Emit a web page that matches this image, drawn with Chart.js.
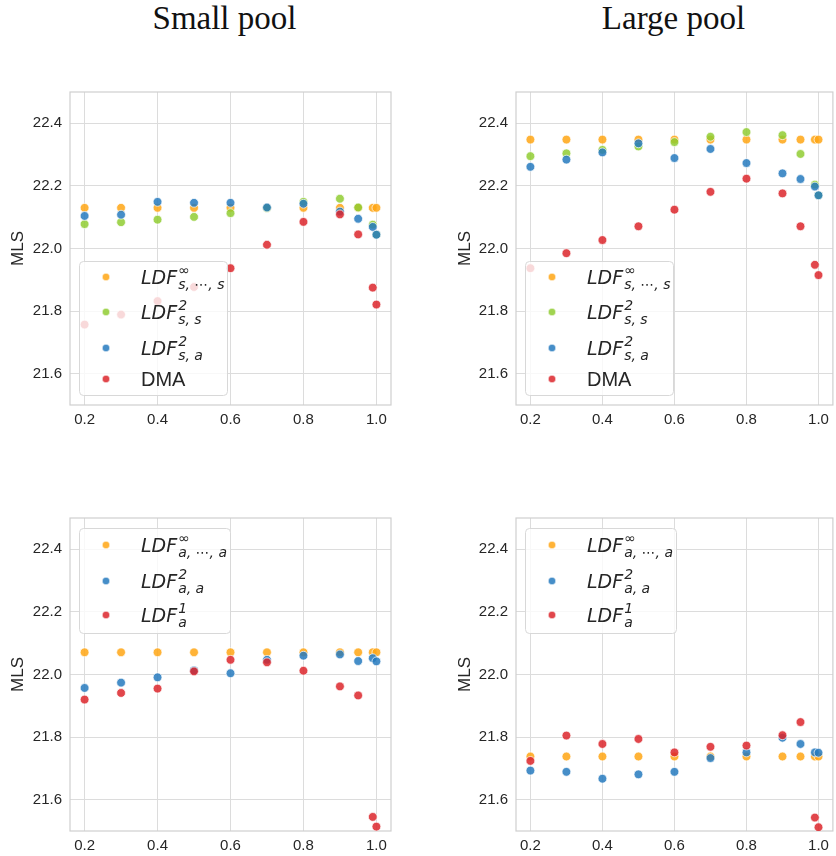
<!DOCTYPE html>
<html>
<head>
<meta charset="utf-8">
<script src="https://cdn.jsdelivr.net/npm/chart.js@4/dist/chart.umd.min.js"></script>
<style>
  body { margin: 0; background: #fff; width: 836px; height: 856px; overflow: hidden; position: relative; }
  .panel { position: absolute; }
  .title { position: absolute; top: 2px; width: 449px; text-align: center;
           font-family: "Liberation Serif", serif; font-size: 33px; line-height: 33px; color: #111; }
</style>
</head>
<body>
<div class="title" style="left:0">Small pool</div>
<div class="title" style="left:449px">Large pool</div>
<canvas id="tl" class="panel" width="418" height="428" style="left:0;top:0"></canvas>
<canvas id="tr" class="panel" width="420" height="428" style="left:418px;top:0"></canvas>
<canvas id="bl" class="panel" width="418" height="428" style="left:0;top:428px"></canvas>
<canvas id="br" class="panel" width="420" height="428" style="left:418px;top:428px"></canvas>
<script>
// shared x positions and ticks
const xVals = [0.2, 0.3, 0.4, 0.5, 0.6, 0.7, 0.8, 0.9, 0.95, 0.99, 1.0];
const xTicks = [0.2, 0.4, 0.6, 0.8, 1.0];
const yTicks = [21.6, 21.8, 22.0, 22.2, 22.4];

// small pool, s-policies
const smallLdfSInf = [22.13, 22.13, 22.13, 22.13, 22.13, 22.13, 22.13, 22.13, 22.13, 22.13, 22.13];
const smallLdfSS   = [22.078, 22.084, 22.092, 22.101, 22.113, 22.129, 22.149, 22.159, 22.131, 22.076, 22.044];
const smallLdfSA   = [22.104, 22.108, 22.149, 22.146, 22.146, 22.131, 22.143, 22.118, 22.095, 22.069, 22.044];
const smallDma     = [21.757, 21.789, 21.832, 21.877, 21.937, 22.012, 22.085, 22.109, 22.045, 21.875, 21.821];

// large pool, s-policies
const largeLdfSInf = [22.348, 22.348, 22.348, 22.348, 22.348, 22.348, 22.348, 22.348, 22.348, 22.348, 22.348];
const largeLdfSS   = [22.295, 22.304, 22.315, 22.326, 22.340, 22.357, 22.372, 22.362, 22.302, 22.204, 22.17];
const largeLdfSA   = [22.261, 22.284, 22.307, 22.336, 22.289, 22.318, 22.273, 22.240, 22.222, 22.198, 22.170];
const largeDma     = [21.937, 21.985, 22.027, 22.071, 22.124, 22.181, 22.223, 22.176, 22.071, 21.948, 21.915];

// small pool, a-policies
const smallLdfAInf = [22.071, 22.071, 22.071, 22.071, 22.071, 22.071, 22.071, 22.071, 22.071, 22.071, 22.071];
const smallLdfAA   = [21.957, 21.974, 21.991, 22.013, 22.004, 22.047, 22.060, 22.064, 22.043, 22.052, 22.042];
const smallLdfA1   = [21.920, 21.941, 21.955, 22.010, 22.047, 22.039, 22.012, 21.962, 21.933, 21.545, 21.514];

// large pool, a-policies
const largeLdfAInf = [21.738, 21.738, 21.738, 21.738, 21.738, 21.738, 21.738, 21.738, 21.738, 21.738, 21.738];
const largeLdfAA   = [21.693, 21.689, 21.667, 21.681, 21.689, 21.733, 21.751, 21.798, 21.778, 21.751, 21.750];
const largeLdfA1   = [21.724, 21.805, 21.778, 21.794, 21.751, 21.769, 21.773, 21.806, 21.848, 21.543, 21.512];

const ORANGE = 'rgba(255,166,20,0.85)';
const GREEN  = 'rgba(145,205,50,0.85)';
const BLUE   = 'rgba(38,122,190,0.85)';
const RED    = 'rgba(220,38,44,0.85)';

// legend labels: base text, superscript, subscript
const sLegend = [
  { color: ORANGE, text: 'LDF', sup: '∞', sub: 's, ⋯, s' },
  { color: GREEN,  text: 'LDF', sup: '2', sub: 's, s' },
  { color: BLUE,   text: 'LDF', sup: '2', sub: 's, a' },
  { color: RED,    text: 'DMA' }
];
const aLegend = [
  { color: ORANGE, text: 'LDF', sup: '∞', sub: 'a, ⋯, a' },
  { color: BLUE,   text: 'LDF', sup: '2', sub: 'a, a' },
  { color: RED,    text: 'LDF', sup: '1', sub: 'a' }
];

const framePlugin = {
  id: 'frame',
  beforeDatasetsDraw(chart) {
    const { ctx, chartArea: a } = chart;
    ctx.save();
    ctx.strokeStyle = '#cfcfcf';
    ctx.lineWidth = 1.2;
    ctx.strokeRect(a.left, a.top, a.right - a.left, a.bottom - a.top);
    ctx.restore();
  }
};

const mathLegend = {
  id: 'mathLegend',
  afterDatasetsDraw(chart, args, opts) {
    const { ctx, chartArea: a } = chart;
    const x0 = a.left + 9;
    const y0 = opts.corner === 'top' ? a.top + 10 : a.bottom - 10 - opts.height;
    ctx.save();
    ctx.beginPath();
    ctx.roundRect(x0 + 0.5, y0 + 0.5, opts.width, opts.height, 4);
    ctx.fillStyle = 'rgba(255,255,255,0.8)';
    ctx.fill();
    ctx.strokeStyle = '#d8d8d8';
    ctx.lineWidth = 1;
    ctx.stroke();
    opts.items.forEach((it, i) => {
      const my = y0 + opts.rows[i];
      ctx.beginPath();
      ctx.arc(x0 + 27, my, 3.8, 0, Math.PI * 2);
      ctx.fillStyle = it.color;
      ctx.fill();
      ctx.strokeStyle = '#fff';
      ctx.lineWidth = 0.6;
      ctx.stroke();
      let tx = x0 + 62;
      const base = my + 7;
      ctx.fillStyle = '#262626';
      ctx.textAlign = 'left';
      ctx.textBaseline = 'alphabetic';
      if (it.sub === undefined) {
        ctx.font = '20px "Liberation Sans"';
        ctx.fillText(it.text, tx, base);
        return;
      }
      ctx.font = 'italic 19px "DejaVu Sans"';
      ctx.fillText(it.text, tx, base);
      tx += ctx.measureText(it.text).width + 1;
      ctx.font = 'italic 14px "DejaVu Sans"';
      ctx.fillText(it.sup, tx, base - 9);
      ctx.fillText(it.sub, tx, base + 5);
    });
    ctx.restore();
  }
};

function makeDataset(label, values, color, order) {
  return {
    label: label,
    data: xVals.map((x, i) => ({ x: x, y: values[i] })),
    backgroundColor: color,
    borderColor: '#ffffff',
    borderWidth: 0.7,
    pointRadius: 4.4,
    order: order
  };
}

function drawPanel(id, datasets, legend, geo) {
  const tickFont = { family: '"Liberation Sans", Arial, sans-serif', size: 15 };
  new Chart(document.getElementById(id), {
    type: 'scatter',
    data: { datasets: datasets },
    plugins: [framePlugin, mathLegend],
    options: {
      responsive: false,
      animation: false,
      devicePixelRatio: 1,
      layout: { padding: { left: 0, right: geo.padRight, top: geo.padTop, bottom: 0 } },
      scales: {
        x: {
          type: 'linear',
          min: 0.16,
          max: 1.04,
          afterBuildTicks: s => { s.ticks = xTicks.map(v => ({ value: v })); },
          afterFit: s => { s.height = geo.xHeight; },
          ticks: { callback: v => v.toFixed(1), font: tickFont, color: '#262626', padding: 6, maxRotation: 0 },
          grid: { color: '#dcdcdc', lineWidth: 1, drawTicks: false },
          border: { display: false }
        },
        y: {
          min: 21.5,
          max: 22.5,
          afterBuildTicks: s => { s.ticks = yTicks.map(v => ({ value: v })); },
          afterFit: s => { s.width = geo.yWidth; },
          ticks: { callback: v => v.toFixed(1), font: tickFont, color: '#262626', padding: 8 },
          grid: { color: '#dcdcdc', lineWidth: 1, drawTicks: false },
          border: { display: false },
          title: {
            display: true,
            text: 'MLS',
            font: { family: '"Liberation Sans", Arial, sans-serif', size: 17 },
            color: '#262626',
            padding: { top: geo.titlePad, bottom: 0 }
          }
        }
      },
      plugins: {
        legend: { display: false },
        tooltip: { enabled: false },
        mathLegend: legend
      }
    }
  });
}

const topLegendS = { items: sLegend, corner: 'bottom', width: 148, height: 134, rows: [16, 51, 87, 118] };
const topLegendA = { items: aLegend, corner: 'top', width: 151, height: 105, rows: [17, 53, 87] };

drawPanel('tl', [
  makeDataset('LDF inf s', smallLdfSInf, ORANGE, 3),
  makeDataset('LDF 2 s,s', smallLdfSS, GREEN, 2),
  makeDataset('LDF 2 s,a', smallLdfSA, BLUE, 1),
  makeDataset('DMA', smallDma, RED, 0)
], topLegendS, { padRight: 27, padTop: 92, xHeight: 23, yWidth: 70, titlePad: 8 });

drawPanel('tr', [
  makeDataset('LDF inf s', largeLdfSInf, ORANGE, 3),
  makeDataset('LDF 2 s,s', largeLdfSS, GREEN, 2),
  makeDataset('LDF 2 s,a', largeLdfSA, BLUE, 1),
  makeDataset('DMA', largeDma, RED, 0)
], topLegendS, { padRight: 1, padTop: 92, xHeight: 23, yWidth: 98, titlePad: 37 });

drawPanel('bl', [
  makeDataset('LDF inf a', smallLdfAInf, ORANGE, 2),
  makeDataset('LDF 2 a,a', smallLdfAA, BLUE, 1),
  makeDataset('LDF 1 a', smallLdfA1, RED, 0)
], topLegendA, { padRight: 27, padTop: 90, xHeight: 25, yWidth: 70, titlePad: 8 });

drawPanel('br', [
  makeDataset('LDF inf a', largeLdfAInf, ORANGE, 2),
  makeDataset('LDF 2 a,a', largeLdfAA, BLUE, 1),
  makeDataset('LDF 1 a', largeLdfA1, RED, 0)
], topLegendA, { padRight: 1, padTop: 90, xHeight: 25, yWidth: 98, titlePad: 37 });
</script>
</body>
</html>
